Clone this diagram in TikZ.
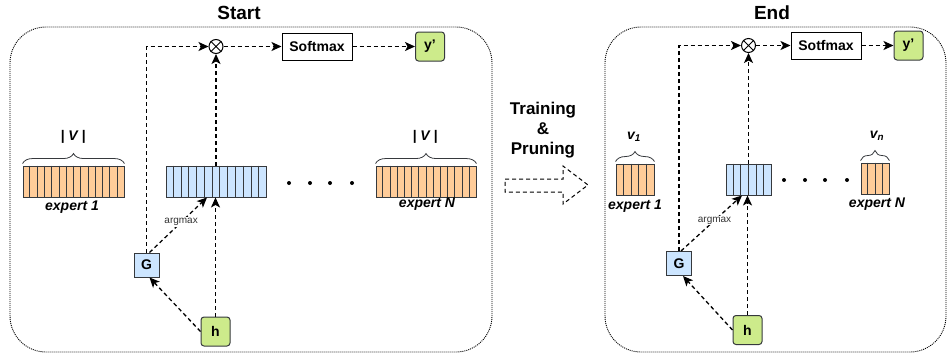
\documentclass[tikz,border=0pt]{standalone}
\usepackage{fontspec}
\setmainfont{Liberation Sans}
\usetikzlibrary{arrows.meta,calc,decorations.pathreplacing}
\definecolor{orangef}{HTML}{FFCC99}
\definecolor{bluef}{HTML}{CCE5FF}
\definecolor{greenf}{HTML}{CDEB8B}
\definecolor{strokec}{HTML}{36393D}
\newcommand\vcells[3]{%
  \foreach \i [evaluate=\i as \f using \i/#2] in {1,...,#3}{%
    \draw[strokec, line width=0.8pt] ($(#1.north west)!\f!(#1.north east)$) -- ($(#1.south west)!\f!(#1.south east)$);}}
\tikzset{
  dl/.style={dash pattern=on 4pt off 3pt, line width=1.3pt, -{Stealth[length=10pt,width=9pt,inset=2.5pt]}},
  panel/.style={draw, dash pattern=on 1pt off 1pt, line width=0.9pt, rounded corners=36pt},
  vecbase/.style={draw=strokec, line width=0.9pt, inner sep=0pt},
  ovec/.style={vecbase, fill=orangef},
  bvec/.style={vecbase, fill=bluef},
  gbox/.style={draw=strokec, fill=greenf, rounded corners=3pt, line width=1pt, inner sep=0pt, minimum width=29pt, minimum height=29pt, font=\bfseries\fontsize{14}{16}\selectfont},
  Gbox/.style={draw=strokec, fill=bluef, line width=1pt, inner sep=0pt, minimum width=25pt, minimum height=24pt, font=\bfseries\fontsize{14}{16}\selectfont},
  smbox/.style={draw, fill=white, line width=1pt, inner sep=0pt, minimum width=70pt, minimum height=27pt, font=\bfseries\fontsize{14}{16}\selectfont},
  ttl/.style={font=\bfseries\fontsize{19}{22}\selectfont},
  lbl/.style={font=\bfseries\itshape\fontsize{14}{16}\selectfont, inner sep=0pt},
  argl/.style={font=\fontsize{10}{12}\selectfont, text=black!80, fill=white, inner sep=1pt},
  mult/.style={circle, draw, line width=1pt, minimum size=14pt, inner sep=0pt},
  dotn/.style={circle, fill, inner sep=0pt, minimum size=4pt},
  brc/.style={decorate, decoration={brace, amplitude=10pt}, line width=0.8pt, strokec},
  midl/.style={font=\bfseries\fontsize{17}{20}\selectfont, align=center},
  blockarrow/.style={draw, dash pattern=on 4pt off 3pt, line width=1pt}
}
\begin{document}
\begin{tikzpicture}[x=1pt, y=-1pt]
\useasboundingbox (0,0) rectangle (948,356);

% ---------- Start panel ----------
\node[ttl] (t1) at (239,12.5) {Start};
\draw[panel] (10,27) rectangle (492,352);

\node[mult] (m1) at (216,46.5) {};
\draw[line width=1pt] (m1.north east) -- (m1.south west) (m1.north west) -- (m1.south east);
\node[smbox] (sm1) at (317,46.5) {Softmax};
\node[gbox] (y1) at (430,46.5) {y'};

\node[ovec, minimum width=101pt, minimum height=31pt] (e1) at (73.5,181.5) {};
\vcells{e1}{14}{13}
\node[bvec, minimum width=100pt, minimum height=31pt] (b1) at (216,181.5) {};
\vcells{b1}{13}{12}
\node[ovec, minimum width=100pt, minimum height=31pt] (eN) at (426,181.5) {};
\vcells{eN}{14}{13}

\draw[brc] ($(e1.north west)+(0,-2)$) -- ($(e1.north east)+(0,-2)$);
\draw[brc] ($(eN.north west)+(0,-2)$) -- ($(eN.north east)+(0,-2)$);
\node[lbl] (v1) at (73,137) {| V |};
\node[lbl] (vN) at (425,137) {| V |};
\node[lbl] (le1) at (72,207.5) {expert 1};
\node[lbl] (leN) at (427,204.5) {expert N};

\node[dotn] (d11) at (289,183) {};
\node[dotn] (d12) at (310,183) {};
\node[dotn] (d13) at (330,183) {};
\node[dotn] (d14) at (352,183) {};

\node[Gbox] (G1) at (146.5,265) {G};
\node[gbox] (h1) at (215.5,331.5) {h};

\draw[dl] (G1.north) -- (G1.north |- m1) -- (m1.west);
\draw[dl] (b1.north) -- (m1.south);
\draw[dl] (m1.east) -- (sm1.west);
\draw[dl] (sm1.east) -- (y1.west);
\draw[dl] ([xshift=3pt]G1.north) -- ([xshift=-9pt]b1.south) node[argl, pos=0.55] {argmax};
\draw[dl] (h1.west) -- ([xshift=3pt]G1.south);
\draw[dl] (h1.north) -- (h1.north |- b1.south);

% ---------- middle ----------
\node[midl] (tp) at (543,130) {Training\\[0pt]\&\\[0pt]Pruning};
\draw[blockarrow] (505,179) -- (563,179) -- (563,166) -- (588,185) -- (563,204) -- (563,192) -- (505,192) -- cycle;

% ---------- End panel ----------
\node[ttl] (t2) at (772,12.5) {End};
\draw[panel] (605,27) rectangle (946,352);

\node[mult] (m2) at (748.5,45.5) {};
\draw[line width=1pt] (m2.north east) -- (m2.south west) (m2.north west) -- (m2.south east);
\node[smbox] (sm2) at (826,45.5) {Sotfmax};
\node[gbox] (y2) at (908.5,45.5) {y'};

\node[ovec, minimum width=38pt, minimum height=31pt] (f1) at (635,179.5) {};
\vcells{f1}{5}{4}
\node[bvec, minimum width=45pt, minimum height=31pt] (b2) at (748.5,179.5) {};
\vcells{b2}{6}{5}
\node[ovec, minimum width=28pt, minimum height=31pt] (fN) at (875,178.5) {};
\vcells{fN}{4}{3}

\draw[brc] ($(f1.north west)+(0,-2)$) -- ($(f1.north east)+(0,-2)$);
\draw[brc] ($(fN.north west)+(0,-2)$) -- ($(fN.north east)+(0,-2)$);
\node[lbl] (w1) at (634,137) {v\textsubscript{1}};
\node[lbl] (wN) at (877,136) {v\textsubscript{n}};
\node[lbl] (lf1) at (635,206.5) {expert 1};
\node[lbl] (lfN) at (877,204.5) {expert N};

\node[dotn] (d21) at (784,180) {};
\node[dotn] (d22) at (805,180) {};
\node[dotn] (d23) at (825,180) {};
\node[dotn] (d24) at (847,180) {};

\node[Gbox] (G2) at (679,263.5) {G};
\node[gbox] (h2) at (747.5,330) {h};

\draw[dl] (G2.north) -- (G2.north |- m2) -- (m2.west);
\draw[dl] (b2.north) -- (m2.south);
\draw[dl] (m2.east) -- (sm2.west);
\draw[dl] (sm2.east) -- (y2.west);
\draw[dl] ([xshift=2pt]G2.north) -- ([xshift=-6.5pt]b2.south) node[argl, pos=0.55] {argmax};
\draw[dl] (h2.west) -- ([xshift=4pt]G2.south);
\draw[dl] (h2.north) -- (h2.north |- b2.south);
\end{tikzpicture}
\end{document}
